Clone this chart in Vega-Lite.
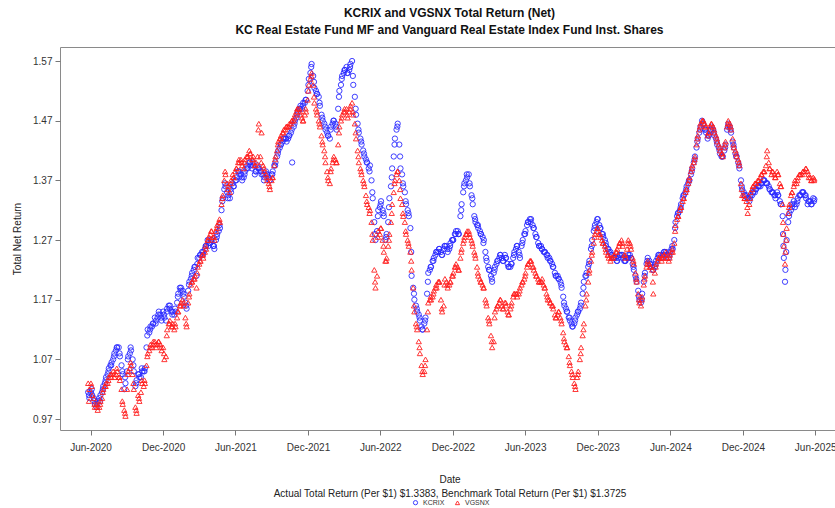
{
"$schema": "https://vega.github.io/schema/vega-lite/v6.json",
"width": 779, "height": 383,
"autosize": {"type": "none"},
"padding": {"left": 60, "top": 47, "right": 0, "bottom": 78},
"background": "white",
"title": {"text": ["KCRIX and VGSNX Total Return (Net)", "KC Real Estate Fund MF and Vanguard Real Estate Index Fund Inst. Shares"], "font": "Liberation Sans", "fontSize": 12, "fontWeight": "bold", "color": "#111", "lineHeight": 17, "anchor": "middle", "offset": 10},
"config": {"view": {"stroke": "#8a8a8a", "strokeWidth": 1}, "font": "Liberation Sans"},
"data": {"values": [
{"d":"2020-05-29","k":1.005,"v":1.02},{"d":"2020-06-05","k":1.01,"v":1.01},{"d":"2020-06-12","k":0.995,"v":0.99},{"d":"2020-06-19","k":1.0,"v":0.985},{"d":"2020-06-26","k":1.01,"v":1.0},
{"d":"2020-07-03","k":1.025,"v":1.02},{"d":"2020-07-10","k":1.04,"v":1.03},{"d":"2020-07-17","k":1.055,"v":1.04},{"d":"2020-07-24","k":1.065,"v":1.045},{"d":"2020-07-31","k":1.08,"v":1.04},
{"d":"2020-08-07","k":1.09,"v":1.05},{"d":"2020-08-14","k":1.075,"v":1.035},{"d":"2020-08-21","k":1.045,"v":0.995},{"d":"2020-08-28","k":1.03,"v":0.975},
{"d":"2020-09-04","k":1.075,"v":1.05},{"d":"2020-09-11","k":1.085,"v":1.06},{"d":"2020-09-18","k":1.05,"v":1.02},{"d":"2020-09-25","k":1.035,"v":0.98},
{"d":"2020-10-02","k":1.04,"v":1.0},{"d":"2020-10-09","k":1.05,"v":1.03},{"d":"2020-10-16","k":1.055,"v":1.03},{"d":"2020-10-23","k":1.12,"v":1.08},{"d":"2020-10-30","k":1.125,"v":1.095},
{"d":"2020-11-06","k":1.13,"v":1.1},{"d":"2020-11-13","k":1.135,"v":1.09},{"d":"2020-11-20","k":1.15,"v":1.1},{"d":"2020-11-27","k":1.135,"v":1.085},
{"d":"2020-12-04","k":1.14,"v":1.07},{"d":"2020-12-11","k":1.155,"v":1.12},{"d":"2020-12-18","k":1.16,"v":1.135},{"d":"2020-12-25","k":1.15,"v":1.13},
{"d":"2021-01-01","k":1.15,"v":1.125},{"d":"2021-01-08","k":1.18,"v":1.15},{"d":"2021-01-15","k":1.19,"v":1.165},{"d":"2021-01-22","k":1.175,"v":1.16},{"d":"2021-01-29","k":1.155,"v":1.125},
{"d":"2021-02-05","k":1.2,"v":1.18},{"d":"2021-02-12","k":1.215,"v":1.2},{"d":"2021-02-19","k":1.225,"v":1.21},{"d":"2021-02-26","k":1.24,"v":1.225},
{"d":"2021-03-05","k":1.245,"v":1.235},{"d":"2021-03-12","k":1.25,"v":1.24},{"d":"2021-03-19","k":1.26,"v":1.255},{"d":"2021-03-26","k":1.265,"v":1.275},
{"d":"2021-04-02","k":1.27,"v":1.285},{"d":"2021-04-09","k":1.255,"v":1.27},{"d":"2021-04-16","k":1.28,"v":1.295},{"d":"2021-04-23","k":1.29,"v":1.3},{"d":"2021-04-30","k":1.34,"v":1.345},
{"d":"2021-05-07","k":1.36,"v":1.38},{"d":"2021-05-14","k":1.345,"v":1.36},{"d":"2021-05-21","k":1.35,"v":1.37},{"d":"2021-05-28","k":1.36,"v":1.375},
{"d":"2021-06-04","k":1.375,"v":1.39},{"d":"2021-06-11","k":1.38,"v":1.4},{"d":"2021-06-18","k":1.37,"v":1.395},{"d":"2021-06-25","k":1.385,"v":1.405},
{"d":"2021-07-02","k":1.39,"v":1.41},{"d":"2021-07-09","k":1.395,"v":1.415},{"d":"2021-07-16","k":1.4,"v":1.41},{"d":"2021-07-23","k":1.385,"v":1.4},{"d":"2021-07-30","k":1.39,"v":1.465},
{"d":"2021-08-06","k":1.38,"v":1.45},{"d":"2021-08-13","k":1.375,"v":1.385},{"d":"2021-08-20","k":1.38,"v":1.37},{"d":"2021-08-27","k":1.37,"v":1.355},
{"d":"2021-09-03","k":1.385,"v":1.375},{"d":"2021-09-10","k":1.4,"v":1.41},{"d":"2021-09-17","k":1.42,"v":1.435},{"d":"2021-09-24","k":1.43,"v":1.445},
{"d":"2021-10-01","k":1.44,"v":1.455},{"d":"2021-10-08","k":1.435,"v":1.46},{"d":"2021-10-15","k":1.445,"v":1.465},{"d":"2021-10-22","k":1.4,"v":1.47},{"d":"2021-10-29","k":1.47,"v":1.48},
{"d":"2021-11-05","k":1.485,"v":1.49},{"d":"2021-11-12","k":1.495,"v":1.48},{"d":"2021-11-19","k":1.5,"v":1.47},{"d":"2021-11-26","k":1.505,"v":1.485},
{"d":"2021-12-03","k":1.54,"v":1.53},{"d":"2021-12-10","k":1.565,"v":1.55},{"d":"2021-12-17","k":1.525,"v":1.5},{"d":"2021-12-24","k":1.515,"v":1.48},{"d":"2021-12-31","k":1.495,"v":1.46},
{"d":"2022-01-07","k":1.47,"v":1.43},{"d":"2022-01-14","k":1.455,"v":1.4},{"d":"2022-01-21","k":1.445,"v":1.37},{"d":"2022-01-28","k":1.46,"v":1.39},
{"d":"2022-02-04","k":1.47,"v":1.41},{"d":"2022-02-11","k":1.455,"v":1.4},{"d":"2022-02-18","k":1.52,"v":1.46},{"d":"2022-02-25","k":1.545,"v":1.48},
{"d":"2022-03-04","k":1.555,"v":1.485},{"d":"2022-03-11","k":1.55,"v":1.475},{"d":"2022-03-18","k":1.565,"v":1.495},{"d":"2022-03-25","k":1.53,"v":1.48},
{"d":"2022-04-01","k":1.48,"v":1.44},{"d":"2022-04-08","k":1.45,"v":1.4},{"d":"2022-04-15","k":1.43,"v":1.38},{"d":"2022-04-22","k":1.41,"v":1.36},{"d":"2022-04-29","k":1.4,"v":1.33},
{"d":"2022-05-06","k":1.395,"v":1.32},{"d":"2022-05-13","k":1.34,"v":1.27},{"d":"2022-05-20","k":1.27,"v":1.19},{"d":"2022-05-27","k":1.32,"v":1.285},
{"d":"2022-06-03","k":1.335,"v":1.29},{"d":"2022-06-10","k":1.31,"v":1.25},{"d":"2022-06-17","k":1.28,"v":1.24},{"d":"2022-06-24","k":1.34,"v":1.28},
{"d":"2022-07-01","k":1.39,"v":1.33},{"d":"2022-07-08","k":1.44,"v":1.37},{"d":"2022-07-15","k":1.465,"v":1.385},{"d":"2022-07-22","k":1.39,"v":1.34},{"d":"2022-07-29","k":1.36,"v":1.31},
{"d":"2022-08-05","k":1.33,"v":1.28},{"d":"2022-08-12","k":1.31,"v":1.26},{"d":"2022-08-19","k":1.21,"v":1.22},{"d":"2022-08-26","k":1.17,"v":1.15},
{"d":"2022-09-02","k":1.15,"v":1.12},{"d":"2022-09-09","k":1.135,"v":1.08},{"d":"2022-09-16","k":1.12,"v":1.045},{"d":"2022-09-23","k":1.14,"v":1.07},{"d":"2022-09-30","k":1.215,"v":1.165},
{"d":"2022-10-07","k":1.225,"v":1.17},{"d":"2022-10-14","k":1.24,"v":1.185},{"d":"2022-10-21","k":1.25,"v":1.19},{"d":"2022-10-28","k":1.255,"v":1.2},
{"d":"2022-11-04","k":1.245,"v":1.15},{"d":"2022-11-11","k":1.26,"v":1.205},{"d":"2022-11-18","k":1.25,"v":1.19},{"d":"2022-11-25","k":1.265,"v":1.2},
{"d":"2022-12-02","k":1.27,"v":1.215},{"d":"2022-12-09","k":1.285,"v":1.23},{"d":"2022-12-16","k":1.28,"v":1.22},{"d":"2022-12-23","k":1.33,"v":1.255},{"d":"2022-12-30","k":1.365,"v":1.275},
{"d":"2023-01-06","k":1.375,"v":1.285},{"d":"2023-01-13","k":1.36,"v":1.275},{"d":"2023-01-20","k":1.33,"v":1.26},{"d":"2023-01-27","k":1.3,"v":1.24},
{"d":"2023-02-03","k":1.29,"v":1.21},{"d":"2023-02-10","k":1.28,"v":1.2},{"d":"2023-02-17","k":1.27,"v":1.19},{"d":"2023-02-24","k":1.235,"v":1.16},
{"d":"2023-03-03","k":1.22,"v":1.13},{"d":"2023-03-10","k":1.2,"v":1.09},{"d":"2023-03-17","k":1.225,"v":1.15},{"d":"2023-03-24","k":1.235,"v":1.16},{"d":"2023-03-31","k":1.245,"v":1.17},
{"d":"2023-04-07","k":1.235,"v":1.155},{"d":"2023-04-14","k":1.24,"v":1.16},{"d":"2023-04-21","k":1.225,"v":1.145},{"d":"2023-04-28","k":1.23,"v":1.165},
{"d":"2023-05-05","k":1.25,"v":1.18},{"d":"2023-05-12","k":1.26,"v":1.175},{"d":"2023-05-19","k":1.24,"v":1.19},{"d":"2023-05-26","k":1.27,"v":1.2},
{"d":"2023-06-02","k":1.285,"v":1.215},{"d":"2023-06-09","k":1.3,"v":1.23},{"d":"2023-06-16","k":1.305,"v":1.235},{"d":"2023-06-23","k":1.29,"v":1.22},{"d":"2023-06-30","k":1.275,"v":1.21},
{"d":"2023-07-07","k":1.26,"v":1.2},{"d":"2023-07-14","k":1.255,"v":1.205},{"d":"2023-07-21","k":1.25,"v":1.19},{"d":"2023-07-28","k":1.24,"v":1.17},
{"d":"2023-08-04","k":1.235,"v":1.165},{"d":"2023-08-11","k":1.225,"v":1.155},{"d":"2023-08-18","k":1.21,"v":1.14},{"d":"2023-08-25","k":1.205,"v":1.15},
{"d":"2023-09-01","k":1.19,"v":1.13},{"d":"2023-09-08","k":1.16,"v":1.1},{"d":"2023-09-15","k":1.15,"v":1.09},{"d":"2023-09-22","k":1.135,"v":1.06},{"d":"2023-09-29","k":1.125,"v":1.04},
{"d":"2023-10-06","k":1.14,"v":1.02},{"d":"2023-10-13","k":1.15,"v":1.05},{"d":"2023-10-20","k":1.165,"v":1.09},{"d":"2023-10-27","k":1.2,"v":1.13},
{"d":"2023-11-03","k":1.215,"v":1.18},{"d":"2023-11-10","k":1.235,"v":1.22},{"d":"2023-11-17","k":1.27,"v":1.25},{"d":"2023-11-24","k":1.295,"v":1.28},
{"d":"2023-12-01","k":1.305,"v":1.29},{"d":"2023-12-08","k":1.29,"v":1.275},{"d":"2023-12-15","k":1.275,"v":1.265},{"d":"2023-12-22","k":1.26,"v":1.25},{"d":"2023-12-29","k":1.25,"v":1.24},
{"d":"2024-01-05","k":1.245,"v":1.24},{"d":"2024-01-12","k":1.24,"v":1.245},{"d":"2024-01-19","k":1.235,"v":1.255},{"d":"2024-01-26","k":1.245,"v":1.265},
{"d":"2024-02-02","k":1.24,"v":1.26},{"d":"2024-02-09","k":1.235,"v":1.24},{"d":"2024-02-16","k":1.245,"v":1.27},{"d":"2024-02-23","k":1.24,"v":1.255},
{"d":"2024-03-01","k":1.22,"v":1.23},{"d":"2024-03-08","k":1.2,"v":1.2},{"d":"2024-03-15","k":1.17,"v":1.165},{"d":"2024-03-22","k":1.18,"v":1.175},{"d":"2024-03-29","k":1.215,"v":1.21},
{"d":"2024-04-05","k":1.24,"v":1.235},{"d":"2024-04-12","k":1.23,"v":1.225},{"d":"2024-04-19","k":1.22,"v":1.18},{"d":"2024-04-26","k":1.235,"v":1.23},
{"d":"2024-05-03","k":1.245,"v":1.24},{"d":"2024-05-10","k":1.24,"v":1.235},{"d":"2024-05-17","k":1.25,"v":1.245},{"d":"2024-05-24","k":1.245,"v":1.24},{"d":"2024-05-31","k":1.25,"v":1.245},
{"d":"2024-06-07","k":1.255,"v":1.25},{"d":"2024-06-14","k":1.3,"v":1.295},{"d":"2024-06-21","k":1.315,"v":1.31},{"d":"2024-06-28","k":1.33,"v":1.325},
{"d":"2024-07-05","k":1.345,"v":1.34},{"d":"2024-07-12","k":1.36,"v":1.355},{"d":"2024-07-19","k":1.37,"v":1.375},{"d":"2024-07-26","k":1.39,"v":1.395},
{"d":"2024-08-02","k":1.41,"v":1.41},{"d":"2024-08-09","k":1.44,"v":1.445},{"d":"2024-08-16","k":1.46,"v":1.465},{"d":"2024-08-23","k":1.465,"v":1.47},{"d":"2024-08-30","k":1.45,"v":1.46},
{"d":"2024-09-06","k":1.445,"v":1.45},{"d":"2024-09-13","k":1.46,"v":1.465},{"d":"2024-09-20","k":1.445,"v":1.45},{"d":"2024-09-27","k":1.43,"v":1.435},
{"d":"2024-10-04","k":1.415,"v":1.42},{"d":"2024-10-11","k":1.41,"v":1.41},{"d":"2024-10-18","k":1.43,"v":1.435},{"d":"2024-10-25","k":1.465,"v":1.47},
{"d":"2024-11-01","k":1.45,"v":1.455},{"d":"2024-11-08","k":1.425,"v":1.425},{"d":"2024-11-15","k":1.41,"v":1.41},{"d":"2024-11-22","k":1.39,"v":1.395},{"d":"2024-11-29","k":1.355,"v":1.345},
{"d":"2024-12-06","k":1.345,"v":1.34},{"d":"2024-12-13","k":1.34,"v":1.315},{"d":"2024-12-20","k":1.345,"v":1.35},{"d":"2024-12-27","k":1.35,"v":1.36},
{"d":"2025-01-03","k":1.355,"v":1.365},{"d":"2025-01-10","k":1.36,"v":1.37},{"d":"2025-01-17","k":1.365,"v":1.38},{"d":"2025-01-24","k":1.37,"v":1.385},{"d":"2025-01-31","k":1.365,"v":1.42},
{"d":"2025-02-07","k":1.355,"v":1.39},{"d":"2025-02-14","k":1.35,"v":1.385},{"d":"2025-02-21","k":1.34,"v":1.375},{"d":"2025-02-28","k":1.345,"v":1.38},
{"d":"2025-03-07","k":1.33,"v":1.36},{"d":"2025-03-12","k":1.28,"v":1.3},{"d":"2025-03-14","k":1.24,"v":1.26},{"d":"2025-03-17","k":1.2,"v":1.23},{"d":"2025-03-21","k":1.27,"v":1.29},{"d":"2025-03-28","k":1.315,"v":1.33},
{"d":"2025-04-04","k":1.33,"v":1.35},{"d":"2025-04-11","k":1.325,"v":1.37},{"d":"2025-04-18","k":1.34,"v":1.375},{"d":"2025-04-25","k":1.345,"v":1.38},
{"d":"2025-05-02","k":1.35,"v":1.385},{"d":"2025-05-09","k":1.34,"v":1.39},{"d":"2025-05-16","k":1.335,"v":1.375},{"d":"2025-05-23","k":1.33,"v":1.37},{"d":"2025-05-30","k":1.3383,"v":1.3725},
{"d":"2020-05-26","k":1.015,"v":1.03},{"d":"2020-06-02","k":1.015,"v":1.03},{"d":"2020-06-09","k":1.005,"v":1.005},{"d":"2020-06-16","k":0.99,"v":0.995},{"d":"2020-06-23","k":1.005,"v":0.99},{"d":"2020-06-30","k":1.015,"v":1.005},
{"d":"2020-07-07","k":1.03,"v":1.025},{"d":"2020-07-14","k":1.045,"v":1.03},{"d":"2020-07-21","k":1.06,"v":1.045},{"d":"2020-07-28","k":1.07,"v":1.05},
{"d":"2020-08-04","k":1.085,"v":1.045},{"d":"2020-08-11","k":1.09,"v":1.04},{"d":"2020-08-18","k":1.06,"v":1.02},{"d":"2020-08-25","k":1.02,"v":0.985},
{"d":"2020-09-01","k":1.05,"v":1.02},{"d":"2020-09-08","k":1.08,"v":1.055},{"d":"2020-09-15","k":1.07,"v":1.045},{"d":"2020-09-22","k":1.025,"v":0.99},{"d":"2020-09-29","k":1.045,"v":1.01},
{"d":"2020-10-06","k":1.04,"v":1.015},{"d":"2020-10-13","k":1.05,"v":1.025},{"d":"2020-10-20","k":1.09,"v":1.06},{"d":"2020-10-27","k":1.115,"v":1.085},
{"d":"2020-11-03","k":1.125,"v":1.09},{"d":"2020-11-10","k":1.14,"v":1.1},{"d":"2020-11-17","k":1.14,"v":1.095},{"d":"2020-11-24","k":1.145,"v":1.095},
{"d":"2020-12-01","k":1.15,"v":1.09},{"d":"2020-12-08","k":1.135,"v":1.075},{"d":"2020-12-15","k":1.16,"v":1.13},{"d":"2020-12-22","k":1.15,"v":1.125},{"d":"2020-12-29","k":1.145,"v":1.12},
{"d":"2021-01-05","k":1.165,"v":1.14},{"d":"2021-01-12","k":1.19,"v":1.16},{"d":"2021-01-19","k":1.185,"v":1.17},{"d":"2021-01-26","k":1.165,"v":1.14},
{"d":"2021-02-02","k":1.185,"v":1.165},{"d":"2021-02-09","k":1.205,"v":1.195},{"d":"2021-02-16","k":1.22,"v":1.205},{"d":"2021-02-23","k":1.21,"v":1.19},
{"d":"2021-03-02","k":1.24,"v":1.23},{"d":"2021-03-09","k":1.25,"v":1.245},{"d":"2021-03-16","k":1.255,"v":1.25},{"d":"2021-03-23","k":1.27,"v":1.27},{"d":"2021-03-30","k":1.265,"v":1.28},
{"d":"2021-04-06","k":1.26,"v":1.275},{"d":"2021-04-13","k":1.27,"v":1.285},{"d":"2021-04-20","k":1.285,"v":1.3},{"d":"2021-04-27","k":1.32,"v":1.33},
{"d":"2021-05-04","k":1.355,"v":1.37},{"d":"2021-05-11","k":1.35,"v":1.365},{"d":"2021-05-18","k":1.34,"v":1.35},{"d":"2021-05-25","k":1.365,"v":1.38},
{"d":"2021-06-01","k":1.37,"v":1.385},{"d":"2021-06-08","k":1.385,"v":1.4},{"d":"2021-06-15","k":1.38,"v":1.405},{"d":"2021-06-22","k":1.375,"v":1.39},{"d":"2021-06-29","k":1.39,"v":1.41},
{"d":"2021-07-06","k":1.4,"v":1.42},{"d":"2021-07-13","k":1.39,"v":1.405},{"d":"2021-07-20","k":1.38,"v":1.395},{"d":"2021-07-27","k":1.395,"v":1.41},
{"d":"2021-08-03","k":1.385,"v":1.41},{"d":"2021-08-10","k":1.38,"v":1.395},{"d":"2021-08-17","k":1.385,"v":1.38},{"d":"2021-08-24","k":1.375,"v":1.365},{"d":"2021-08-31","k":1.38,"v":1.37},
{"d":"2021-09-07","k":1.395,"v":1.395},{"d":"2021-09-14","k":1.41,"v":1.42},{"d":"2021-09-21","k":1.425,"v":1.44},{"d":"2021-09-28","k":1.435,"v":1.45},
{"d":"2021-10-05","k":1.44,"v":1.455},{"d":"2021-10-12","k":1.44,"v":1.46},{"d":"2021-10-19","k":1.45,"v":1.465},{"d":"2021-10-26","k":1.46,"v":1.47},
{"d":"2021-11-02","k":1.475,"v":1.485},{"d":"2021-11-09","k":1.49,"v":1.49},{"d":"2021-11-16","k":1.49,"v":1.475},{"d":"2021-11-23","k":1.5,"v":1.48},{"d":"2021-11-30","k":1.52,"v":1.505},
{"d":"2021-12-07","k":1.55,"v":1.54},{"d":"2021-12-14","k":1.545,"v":1.53},{"d":"2021-12-21","k":1.52,"v":1.49},{"d":"2021-12-28","k":1.51,"v":1.47},
{"d":"2022-01-04","k":1.48,"v":1.445},{"d":"2022-01-11","k":1.465,"v":1.42},{"d":"2022-01-18","k":1.45,"v":1.385},{"d":"2022-01-25","k":1.44,"v":1.365},
{"d":"2022-02-01","k":1.465,"v":1.4},{"d":"2022-02-08","k":1.465,"v":1.405},{"d":"2022-02-15","k":1.49,"v":1.43},{"d":"2022-02-22","k":1.53,"v":1.47},
{"d":"2022-03-01","k":1.55,"v":1.485},{"d":"2022-03-08","k":1.56,"v":1.49},{"d":"2022-03-15","k":1.555,"v":1.485},{"d":"2022-03-22","k":1.57,"v":1.5},{"d":"2022-03-29","k":1.51,"v":1.465},
{"d":"2022-04-05","k":1.465,"v":1.42},{"d":"2022-04-12","k":1.44,"v":1.39},{"d":"2022-04-19","k":1.42,"v":1.37},{"d":"2022-04-26","k":1.405,"v":1.345},
{"d":"2022-05-03","k":1.39,"v":1.325},{"d":"2022-05-10","k":1.37,"v":1.3},{"d":"2022-05-17","k":1.3,"v":1.22},{"d":"2022-05-24","k":1.285,"v":1.21},{"d":"2022-05-31","k":1.325,"v":1.28},
{"d":"2022-06-07","k":1.32,"v":1.27},{"d":"2022-06-14","k":1.27,"v":1.235},{"d":"2022-06-21","k":1.3,"v":1.26},{"d":"2022-06-28","k":1.36,"v":1.3},
{"d":"2022-07-05","k":1.41,"v":1.35},{"d":"2022-07-12","k":1.455,"v":1.38},{"d":"2022-07-19","k":1.43,"v":1.37},{"d":"2022-07-26","k":1.38,"v":1.33},
{"d":"2022-08-02","k":1.35,"v":1.3},{"d":"2022-08-09","k":1.32,"v":1.27},{"d":"2022-08-16","k":1.29,"v":1.25},{"d":"2022-08-23","k":1.19,"v":1.19},{"d":"2022-08-30","k":1.16,"v":1.13},
{"d":"2022-09-06","k":1.145,"v":1.1},{"d":"2022-09-13","k":1.125,"v":1.06},{"d":"2022-09-20","k":1.13,"v":1.05},{"d":"2022-09-27","k":1.18,"v":1.12},
{"d":"2022-10-04","k":1.22,"v":1.17},{"d":"2022-10-11","k":1.235,"v":1.175},{"d":"2022-10-18","k":1.245,"v":1.19},{"d":"2022-10-25","k":1.25,"v":1.2},
{"d":"2022-11-01","k":1.25,"v":1.17},{"d":"2022-11-08","k":1.255,"v":1.16},{"d":"2022-11-15","k":1.26,"v":1.2},{"d":"2022-11-22","k":1.255,"v":1.195},{"d":"2022-11-29","k":1.27,"v":1.21},
{"d":"2022-12-06","k":1.28,"v":1.225},{"d":"2022-12-13","k":1.285,"v":1.225},{"d":"2022-12-20","k":1.31,"v":1.24},{"d":"2022-12-27","k":1.35,"v":1.265},
{"d":"2023-01-03","k":1.37,"v":1.28},{"d":"2023-01-10","k":1.38,"v":1.285},{"d":"2023-01-17","k":1.345,"v":1.27},{"d":"2023-01-24","k":1.31,"v":1.25},{"d":"2023-01-31","k":1.295,"v":1.225},
{"d":"2023-02-07","k":1.285,"v":1.205},{"d":"2023-02-14","k":1.275,"v":1.195},{"d":"2023-02-21","k":1.25,"v":1.17},{"d":"2023-02-28","k":1.225,"v":1.14},
{"d":"2023-03-07","k":1.21,"v":1.11},{"d":"2023-03-14","k":1.215,"v":1.1},{"d":"2023-03-21","k":1.23,"v":1.155},{"d":"2023-03-28","k":1.24,"v":1.165},
{"d":"2023-04-04","k":1.24,"v":1.16},{"d":"2023-04-11","k":1.245,"v":1.165},{"d":"2023-04-18","k":1.23,"v":1.15},{"d":"2023-04-25","k":1.225,"v":1.155},
{"d":"2023-05-02","k":1.24,"v":1.175},{"d":"2023-05-09","k":1.255,"v":1.18},{"d":"2023-05-16","k":1.25,"v":1.18},{"d":"2023-05-23","k":1.26,"v":1.195},{"d":"2023-05-30","k":1.28,"v":1.205},
{"d":"2023-06-06","k":1.295,"v":1.225},{"d":"2023-06-13","k":1.305,"v":1.235},{"d":"2023-06-20","k":1.295,"v":1.225},{"d":"2023-06-27","k":1.28,"v":1.215},
{"d":"2023-07-04","k":1.265,"v":1.205},{"d":"2023-07-11","k":1.26,"v":1.2},{"d":"2023-07-18","k":1.25,"v":1.195},{"d":"2023-07-25","k":1.245,"v":1.18},
{"d":"2023-08-01","k":1.24,"v":1.17},{"d":"2023-08-08","k":1.23,"v":1.16},{"d":"2023-08-15","k":1.215,"v":1.145},{"d":"2023-08-22","k":1.21,"v":1.145},{"d":"2023-08-29","k":1.2,"v":1.14},
{"d":"2023-09-05","k":1.175,"v":1.115},{"d":"2023-09-12","k":1.155,"v":1.095},{"d":"2023-09-19","k":1.14,"v":1.075},{"d":"2023-09-26","k":1.13,"v":1.05},
{"d":"2023-10-03","k":1.13,"v":1.03},{"d":"2023-10-10","k":1.145,"v":1.04},{"d":"2023-10-17","k":1.155,"v":1.07},{"d":"2023-10-24","k":1.18,"v":1.11},{"d":"2023-10-31","k":1.21,"v":1.16},
{"d":"2023-11-07","k":1.225,"v":1.2},{"d":"2023-11-14","k":1.255,"v":1.235},{"d":"2023-11-21","k":1.285,"v":1.265},{"d":"2023-11-28","k":1.3,"v":1.285},
{"d":"2023-12-05","k":1.295,"v":1.28},{"d":"2023-12-12","k":1.28,"v":1.27},{"d":"2023-12-19","k":1.27,"v":1.26},{"d":"2023-12-26","k":1.255,"v":1.245},
{"d":"2024-01-02","k":1.25,"v":1.235},{"d":"2024-01-09","k":1.24,"v":1.24},{"d":"2024-01-16","k":1.24,"v":1.25},{"d":"2024-01-23","k":1.24,"v":1.26},{"d":"2024-01-30","k":1.245,"v":1.27},
{"d":"2024-02-06","k":1.235,"v":1.245},{"d":"2024-02-13","k":1.24,"v":1.255},{"d":"2024-02-20","k":1.245,"v":1.265},{"d":"2024-02-27","k":1.23,"v":1.24},
{"d":"2024-03-05","k":1.21,"v":1.215},{"d":"2024-03-12","k":1.185,"v":1.18},{"d":"2024-03-19","k":1.165,"v":1.16},{"d":"2024-03-26","k":1.2,"v":1.195},
{"d":"2024-04-02","k":1.23,"v":1.225},{"d":"2024-04-09","k":1.235,"v":1.23},{"d":"2024-04-16","k":1.225,"v":1.22},{"d":"2024-04-23","k":1.225,"v":1.215},{"d":"2024-04-30","k":1.24,"v":1.235},
{"d":"2024-05-07","k":1.245,"v":1.245},{"d":"2024-05-14","k":1.245,"v":1.24},{"d":"2024-05-21","k":1.25,"v":1.25},{"d":"2024-05-28","k":1.24,"v":1.235},
{"d":"2024-06-04","k":1.255,"v":1.25},{"d":"2024-06-11","k":1.27,"v":1.265},{"d":"2024-06-18","k":1.31,"v":1.305},{"d":"2024-06-25","k":1.32,"v":1.32},
{"d":"2024-07-02","k":1.34,"v":1.335},{"d":"2024-07-09","k":1.35,"v":1.35},{"d":"2024-07-16","k":1.365,"v":1.365},{"d":"2024-07-23","k":1.38,"v":1.385},{"d":"2024-07-30","k":1.4,"v":1.4},
{"d":"2024-08-06","k":1.425,"v":1.43},{"d":"2024-08-13","k":1.45,"v":1.455},{"d":"2024-08-20","k":1.47,"v":1.47},{"d":"2024-08-27","k":1.455,"v":1.465},
{"d":"2024-09-03","k":1.44,"v":1.445},{"d":"2024-09-10","k":1.455,"v":1.46},{"d":"2024-09-17","k":1.455,"v":1.46},{"d":"2024-09-24","k":1.44,"v":1.445},
{"d":"2024-10-01","k":1.425,"v":1.43},{"d":"2024-10-08","k":1.41,"v":1.415},{"d":"2024-10-15","k":1.42,"v":1.425},{"d":"2024-10-22","k":1.455,"v":1.46},{"d":"2024-10-29","k":1.46,"v":1.465},
{"d":"2024-11-05","k":1.435,"v":1.44},{"d":"2024-11-12","k":1.415,"v":1.42},{"d":"2024-11-19","k":1.4,"v":1.405},{"d":"2024-11-26","k":1.37,"v":1.365},
{"d":"2024-12-03","k":1.35,"v":1.345},{"d":"2024-12-10","k":1.345,"v":1.335},{"d":"2024-12-17","k":1.335,"v":1.33},{"d":"2024-12-24","k":1.345,"v":1.355},{"d":"2024-12-31","k":1.35,"v":1.365},
{"d":"2025-01-07","k":1.36,"v":1.37},{"d":"2025-01-14","k":1.36,"v":1.375},{"d":"2025-01-21","k":1.37,"v":1.385},{"d":"2025-01-28","k":1.365,"v":1.395},
{"d":"2025-02-04","k":1.36,"v":1.4},{"d":"2025-02-11","k":1.35,"v":1.38},{"d":"2025-02-18","k":1.345,"v":1.38},{"d":"2025-02-25","k":1.35,"v":1.385},
{"d":"2025-03-04","k":1.335,"v":1.365},{"d":"2025-03-11","k":1.31,"v":1.33},{"d":"2025-03-18","k":1.22,"v":1.25},{"d":"2025-03-25","k":1.3,"v":1.315},
{"d":"2025-04-01","k":1.32,"v":1.345},{"d":"2025-04-08","k":1.335,"v":1.36},{"d":"2025-04-15","k":1.33,"v":1.365},{"d":"2025-04-22","k":1.345,"v":1.38},{"d":"2025-04-29","k":1.35,"v":1.38},
{"d":"2025-05-06","k":1.345,"v":1.385},{"d":"2025-05-13","k":1.33,"v":1.385},{"d":"2025-05-20","k":1.335,"v":1.375},{"d":"2025-05-27","k":1.34,"v":1.375},
{"d":"2020-05-28","k":1.01,"v":1.0},{"d":"2020-06-04","k":1.02,"v":1.025},{"d":"2020-06-11","k":1.0,"v":0.995},{"d":"2020-06-18","k":0.995,"v":0.99},{"d":"2020-06-25","k":1.0,"v":0.995},
{"d":"2020-07-02","k":1.02,"v":1.015},{"d":"2020-07-09","k":1.035,"v":1.025},{"d":"2020-07-16","k":1.05,"v":1.035},{"d":"2020-07-23","k":1.06,"v":1.04},{"d":"2020-07-30","k":1.075,"v":1.045},
{"d":"2020-08-06","k":1.09,"v":1.055},{"d":"2020-08-13","k":1.08,"v":1.04},{"d":"2020-08-20","k":1.05,"v":1.0},{"d":"2020-08-27","k":1.04,"v":0.98},
{"d":"2020-09-03","k":1.07,"v":1.045},{"d":"2020-09-10","k":1.09,"v":1.065},{"d":"2020-09-17","k":1.06,"v":1.03},{"d":"2020-09-24","k":1.03,"v":0.985},
{"d":"2020-10-01","k":1.045,"v":1.005},{"d":"2020-10-08","k":1.055,"v":1.035},{"d":"2020-10-15","k":1.05,"v":1.035},{"d":"2020-10-22","k":1.11,"v":1.075},{"d":"2020-10-29","k":1.12,"v":1.09},
{"d":"2020-11-05","k":1.13,"v":1.095},{"d":"2020-11-12","k":1.13,"v":1.095},{"d":"2020-11-19","k":1.145,"v":1.1},{"d":"2020-11-26","k":1.14,"v":1.09},
{"d":"2020-12-03","k":1.145,"v":1.08},{"d":"2020-12-10","k":1.15,"v":1.11},{"d":"2020-12-17","k":1.155,"v":1.13},{"d":"2020-12-24","k":1.145,"v":1.125},{"d":"2020-12-31","k":1.155,"v":1.13},
{"d":"2021-01-07","k":1.175,"v":1.15},{"d":"2021-01-14","k":1.185,"v":1.16},{"d":"2021-01-21","k":1.18,"v":1.165},{"d":"2021-01-28","k":1.16,"v":1.13},
{"d":"2021-02-04","k":1.195,"v":1.175},{"d":"2021-02-11","k":1.21,"v":1.2},{"d":"2021-02-18","k":1.225,"v":1.205},{"d":"2021-02-25","k":1.23,"v":1.215},
{"d":"2021-03-04","k":1.245,"v":1.235},{"d":"2021-03-11","k":1.245,"v":1.245},{"d":"2021-03-18","k":1.26,"v":1.26},{"d":"2021-03-25","k":1.26,"v":1.27},
{"d":"2021-04-01","k":1.27,"v":1.285},{"d":"2021-04-08","k":1.26,"v":1.275},{"d":"2021-04-15","k":1.275,"v":1.29},{"d":"2021-04-22","k":1.295,"v":1.305},{"d":"2021-04-29","k":1.335,"v":1.34},
{"d":"2021-05-06","k":1.365,"v":1.385},{"d":"2021-05-13","k":1.34,"v":1.355},{"d":"2021-05-20","k":1.355,"v":1.365},{"d":"2021-05-27","k":1.36,"v":1.375},
{"d":"2021-06-03","k":1.37,"v":1.39},{"d":"2021-06-10","k":1.385,"v":1.405},{"d":"2021-06-17","k":1.375,"v":1.4},{"d":"2021-06-24","k":1.38,"v":1.4},
{"d":"2021-07-01","k":1.395,"v":1.41},{"d":"2021-07-08","k":1.4,"v":1.415},{"d":"2021-07-15","k":1.395,"v":1.405},{"d":"2021-07-22","k":1.385,"v":1.395},{"d":"2021-07-29","k":1.39,"v":1.455},
{"d":"2021-08-05","k":1.385,"v":1.4},{"d":"2021-08-12","k":1.37,"v":1.39},{"d":"2021-08-19","k":1.38,"v":1.375},{"d":"2021-08-26","k":1.37,"v":1.36},
{"d":"2021-09-02","k":1.38,"v":1.375},{"d":"2021-09-09","k":1.395,"v":1.405},{"d":"2021-09-16","k":1.415,"v":1.43},{"d":"2021-09-23","k":1.43,"v":1.44},{"d":"2021-09-30","k":1.44,"v":1.45},
{"d":"2021-10-07","k":1.44,"v":1.46},{"d":"2021-10-14","k":1.445,"v":1.46},{"d":"2021-10-21","k":1.455,"v":1.47},{"d":"2021-10-28","k":1.465,"v":1.475},
{"d":"2021-11-04","k":1.48,"v":1.49},{"d":"2021-11-11","k":1.49,"v":1.485},{"d":"2021-11-18","k":1.495,"v":1.47},{"d":"2021-11-25","k":1.505,"v":1.49},
{"d":"2021-12-02","k":1.53,"v":1.52},{"d":"2021-12-09","k":1.56,"v":1.545},{"d":"2021-12-16","k":1.535,"v":1.51},{"d":"2021-12-23","k":1.515,"v":1.485},{"d":"2021-12-30","k":1.5,"v":1.465},
{"d":"2022-01-06","k":1.475,"v":1.435},{"d":"2022-01-13","k":1.46,"v":1.41},{"d":"2022-01-20","k":1.445,"v":1.375},{"d":"2022-01-27","k":1.455,"v":1.385},
{"d":"2022-02-03","k":1.47,"v":1.405},{"d":"2022-02-10","k":1.46,"v":1.4},{"d":"2022-02-17","k":1.51,"v":1.45},{"d":"2022-02-24","k":1.54,"v":1.475},
{"d":"2022-03-03","k":1.555,"v":1.49},{"d":"2022-03-10","k":1.55,"v":1.48},{"d":"2022-03-17","k":1.56,"v":1.49},{"d":"2022-03-24","k":1.545,"v":1.485},{"d":"2022-03-31","k":1.49,"v":1.45},
{"d":"2022-04-07","k":1.455,"v":1.41},{"d":"2022-04-14","k":1.435,"v":1.385},{"d":"2022-04-21","k":1.415,"v":1.365},{"d":"2022-04-28","k":1.4,"v":1.335},
{"d":"2022-05-05","k":1.385,"v":1.315},{"d":"2022-05-12","k":1.35,"v":1.28},{"d":"2022-05-19","k":1.28,"v":1.2},{"d":"2022-05-26","k":1.31,"v":1.275},
{"d":"2022-06-02","k":1.33,"v":1.29},{"d":"2022-06-09","k":1.315,"v":1.26},{"d":"2022-06-16","k":1.275,"v":1.235},{"d":"2022-06-23","k":1.325,"v":1.27},{"d":"2022-06-30","k":1.375,"v":1.315},
{"d":"2022-07-07","k":1.43,"v":1.365},{"d":"2022-07-14","k":1.46,"v":1.385},{"d":"2022-07-21","k":1.41,"v":1.355},{"d":"2022-07-28","k":1.365,"v":1.315},
{"d":"2022-08-04","k":1.335,"v":1.285},{"d":"2022-08-11","k":1.315,"v":1.265},{"d":"2022-08-18","k":1.25,"v":1.235},{"d":"2022-08-25","k":1.18,"v":1.16},
{"d":"2022-09-01","k":1.155,"v":1.125},{"d":"2022-09-08","k":1.14,"v":1.09},{"d":"2022-09-15","k":1.12,"v":1.05},{"d":"2022-09-22","k":1.135,"v":1.06},{"d":"2022-09-29","k":1.2,"v":1.15},
{"d":"2022-10-06","k":1.225,"v":1.175},{"d":"2022-10-13","k":1.235,"v":1.18},{"d":"2022-10-20","k":1.25,"v":1.195},{"d":"2022-10-27","k":1.255,"v":1.2},
{"d":"2022-11-03","k":1.245,"v":1.155},{"d":"2022-11-10","k":1.26,"v":1.195},{"d":"2022-11-17","k":1.255,"v":1.195},{"d":"2022-11-24","k":1.26,"v":1.2},
{"d":"2022-12-01","k":1.27,"v":1.21},{"d":"2022-12-08","k":1.28,"v":1.225},{"d":"2022-12-15","k":1.28,"v":1.22},{"d":"2022-12-22","k":1.32,"v":1.25},{"d":"2022-12-29","k":1.36,"v":1.27},
{"d":"2023-01-05","k":1.38,"v":1.28},{"d":"2023-01-12","k":1.365,"v":1.28},{"d":"2023-01-19","k":1.34,"v":1.265},{"d":"2023-01-26","k":1.305,"v":1.245},
{"d":"2023-02-02","k":1.295,"v":1.215},{"d":"2023-02-09","k":1.28,"v":1.2},{"d":"2023-02-16","k":1.265,"v":1.19},{"d":"2023-02-23","k":1.24,"v":1.165},
{"d":"2023-03-02","k":1.22,"v":1.135},{"d":"2023-03-09","k":1.205,"v":1.1},{"d":"2023-03-16","k":1.22,"v":1.14},{"d":"2023-03-23","k":1.235,"v":1.16},{"d":"2023-03-30","k":1.245,"v":1.17},
{"d":"2023-04-06","k":1.235,"v":1.155},{"d":"2023-04-13","k":1.24,"v":1.165},{"d":"2023-04-20","k":1.225,"v":1.145},{"d":"2023-04-27","k":1.23,"v":1.16},
{"d":"2023-05-04","k":1.245,"v":1.18},{"d":"2023-05-11","k":1.26,"v":1.18},{"d":"2023-05-18","k":1.245,"v":1.185},{"d":"2023-05-25","k":1.265,"v":1.2},
{"d":"2023-06-01","k":1.28,"v":1.21},{"d":"2023-06-08","k":1.3,"v":1.23},{"d":"2023-06-15","k":1.3,"v":1.235},{"d":"2023-06-22","k":1.29,"v":1.225},{"d":"2023-06-29","k":1.275,"v":1.21},
{"d":"2023-07-06","k":1.26,"v":1.2},{"d":"2023-07-13","k":1.255,"v":1.2},{"d":"2023-07-20","k":1.25,"v":1.19},{"d":"2023-07-27","k":1.245,"v":1.175},
{"d":"2023-08-03","k":1.235,"v":1.165},{"d":"2023-08-10","k":1.225,"v":1.16},{"d":"2023-08-17","k":1.21,"v":1.14},{"d":"2023-08-24","k":1.205,"v":1.15},{"d":"2023-08-31","k":1.195,"v":1.135},
{"d":"2023-09-07","k":1.165,"v":1.105},{"d":"2023-09-14","k":1.15,"v":1.09},{"d":"2023-09-21","k":1.14,"v":1.065},{"d":"2023-09-28","k":1.125,"v":1.045},
{"d":"2023-10-05","k":1.135,"v":1.025},{"d":"2023-10-12","k":1.15,"v":1.045},{"d":"2023-10-19","k":1.16,"v":1.08},{"d":"2023-10-26","k":1.19,"v":1.12},
{"d":"2023-11-02","k":1.21,"v":1.17},{"d":"2023-11-09","k":1.23,"v":1.215},{"d":"2023-11-16","k":1.26,"v":1.245},{"d":"2023-11-23","k":1.29,"v":1.275},{"d":"2023-11-30","k":1.305,"v":1.29},
{"d":"2023-12-07","k":1.29,"v":1.28},{"d":"2023-12-14","k":1.28,"v":1.265},{"d":"2023-12-21","k":1.265,"v":1.255},{"d":"2023-12-28","k":1.255,"v":1.245},
{"d":"2024-01-04","k":1.245,"v":1.24},{"d":"2024-01-11","k":1.24,"v":1.245},{"d":"2024-01-18","k":1.235,"v":1.25},{"d":"2024-01-25","k":1.245,"v":1.265},
{"d":"2024-02-01","k":1.245,"v":1.265},{"d":"2024-02-08","k":1.235,"v":1.245},{"d":"2024-02-15","k":1.24,"v":1.265},{"d":"2024-02-22","k":1.24,"v":1.26},{"d":"2024-02-29","k":1.225,"v":1.235},
{"d":"2024-03-07","k":1.205,"v":1.205},{"d":"2024-03-14","k":1.175,"v":1.17},{"d":"2024-03-21","k":1.17,"v":1.17},{"d":"2024-03-28","k":1.21,"v":1.205},
{"d":"2024-04-04","k":1.235,"v":1.23},{"d":"2024-04-11","k":1.23,"v":1.225},{"d":"2024-04-18","k":1.22,"v":1.2},{"d":"2024-04-25","k":1.23,"v":1.225},
{"d":"2024-05-02","k":1.245,"v":1.24},{"d":"2024-05-09","k":1.24,"v":1.24},{"d":"2024-05-16","k":1.25,"v":1.245},{"d":"2024-05-23","k":1.245,"v":1.24},{"d":"2024-05-30","k":1.245,"v":1.24},
{"d":"2024-06-06","k":1.26,"v":1.255},{"d":"2024-06-13","k":1.29,"v":1.285},{"d":"2024-06-20","k":1.315,"v":1.31},{"d":"2024-06-27","k":1.325,"v":1.325},
{"d":"2024-07-04","k":1.345,"v":1.34},{"d":"2024-07-11","k":1.355,"v":1.355},{"d":"2024-07-18","k":1.37,"v":1.37},{"d":"2024-07-25","k":1.385,"v":1.39},
{"d":"2024-08-01","k":1.405,"v":1.405},{"d":"2024-08-08","k":1.435,"v":1.44},{"d":"2024-08-15","k":1.455,"v":1.46},{"d":"2024-08-22","k":1.465,"v":1.47},{"d":"2024-08-29","k":1.455,"v":1.46},
{"d":"2024-09-05","k":1.445,"v":1.45},{"d":"2024-09-12","k":1.455,"v":1.465},{"d":"2024-09-19","k":1.45,"v":1.455},{"d":"2024-09-26","k":1.435,"v":1.44},
{"d":"2024-10-03","k":1.42,"v":1.425},{"d":"2024-10-10","k":1.41,"v":1.415},{"d":"2024-10-17","k":1.425,"v":1.43},{"d":"2024-10-24","k":1.46,"v":1.465},{"d":"2024-10-31","k":1.455,"v":1.46},
{"d":"2024-11-07","k":1.43,"v":1.43},{"d":"2024-11-14","k":1.41,"v":1.415},{"d":"2024-11-21","k":1.395,"v":1.4},{"d":"2024-11-28","k":1.36,"v":1.355},
{"d":"2024-12-05","k":1.345,"v":1.34},{"d":"2024-12-12","k":1.34,"v":1.325},{"d":"2024-12-19","k":1.34,"v":1.34},{"d":"2024-12-26","k":1.35,"v":1.36},
{"d":"2025-01-02","k":1.355,"v":1.365},{"d":"2025-01-09","k":1.36,"v":1.37},{"d":"2025-01-16","k":1.365,"v":1.38},{"d":"2025-01-23","k":1.37,"v":1.385},{"d":"2025-01-30","k":1.365,"v":1.41},
{"d":"2025-02-06","k":1.355,"v":1.39},{"d":"2025-02-13","k":1.35,"v":1.385},{"d":"2025-02-20","k":1.345,"v":1.375},{"d":"2025-02-27","k":1.345,"v":1.38},
{"d":"2025-03-06","k":1.33,"v":1.36},{"d":"2025-03-13","k":1.26,"v":1.28},{"d":"2025-03-20","k":1.25,"v":1.27},{"d":"2025-03-27","k":1.31,"v":1.325},
{"d":"2025-04-03","k":1.325,"v":1.35},{"d":"2025-04-10","k":1.33,"v":1.365},{"d":"2025-04-17","k":1.335,"v":1.37},{"d":"2025-04-24","k":1.345,"v":1.38},
{"d":"2025-05-01","k":1.35,"v":1.385},{"d":"2025-05-08","k":1.345,"v":1.39},{"d":"2025-05-15","k":1.335,"v":1.38},{"d":"2025-05-22","k":1.33,"v":1.37},{"d":"2025-05-29","k":1.335,"v":1.37}
]},
"encoding": {
  "x": {"field": "d", "type": "temporal",
    "scale": {"type": "utc", "domain": [{"year": 2020, "month": 3, "date": 16, "utc": true}, {"year": 2025, "month": 7, "date": 31, "utc": true}]},
    "axis": {"values": [
      {"year": 2020, "month": 6, "date": 1, "utc": true}, {"year": 2020, "month": 12, "date": 1, "utc": true},
      {"year": 2021, "month": 6, "date": 1, "utc": true}, {"year": 2021, "month": 12, "date": 1, "utc": true},
      {"year": 2022, "month": 6, "date": 1, "utc": true}, {"year": 2022, "month": 12, "date": 1, "utc": true},
      {"year": 2023, "month": 6, "date": 1, "utc": true}, {"year": 2023, "month": 12, "date": 1, "utc": true},
      {"year": 2024, "month": 6, "date": 1, "utc": true}, {"year": 2024, "month": 12, "date": 1, "utc": true},
      {"year": 2025, "month": 6, "date": 1, "utc": true}],
      "format": "%b-%Y", "grid": false, "domain": false, "tickColor": "#777", "tickSize": 5,
      "labelFontSize": 10, "labelColor": "#333", "labelPadding": 7, "labelFlush": false, "labelOverlap": false,
      "title": ["Date", "Actual Total Return (Per $1) $1.3383,  Benchmark Total Return (Per $1) $1.3725"],
      "titleFontSize": 10, "titleFontWeight": "normal", "titleColor": "#222", "titleLineHeight": 14, "titlePadding": 22}
  }
},
"layer": [
  {"mark": {"type": "point", "filled": false, "size": 28, "strokeWidth": 1, "opacity": 0.9},
   "encoding": {
     "y": {"field": "k", "type": "quantitative",
       "scale": {"domain": [0.9516, 1.5935], "nice": false, "zero": false},
       "axis": {"values": [0.97, 1.07, 1.17, 1.27, 1.37, 1.47, 1.57], "format": ".2f", "grid": false, "domain": false,
         "tickColor": "#777", "tickSize": 5, "labelFontSize": 10, "labelColor": "#333", "labelPadding": 3,
         "title": "Total Net Return", "titleFontSize": 10, "titleFontWeight": "normal", "titleColor": "#222", "titlePadding": 10}},
     "color": {"datum": "KCRIX", "scale": {"domain": ["KCRIX", "VGSNX"], "range": ["#2a2aff", "#ff2020"]},
       "legend": {"orient": "none", "legendX": 352, "legendY": 452, "direction": "horizontal", "title": null, "labelFontSize": 7, "labelColor": "#333", "symbolSize": 18, "columnPadding": 8, "symbolStrokeWidth": 1}},
     "shape": {"datum": "KCRIX", "scale": {"domain": ["KCRIX", "VGSNX"], "range": ["circle", "triangle-up"]}}
   }},
  {"mark": {"type": "point", "filled": false, "size": 28, "strokeWidth": 1, "opacity": 0.9},
   "encoding": {
     "y": {"field": "v", "type": "quantitative"},
     "color": {"datum": "VGSNX"},
     "shape": {"datum": "VGSNX"}
   }}
]
}
